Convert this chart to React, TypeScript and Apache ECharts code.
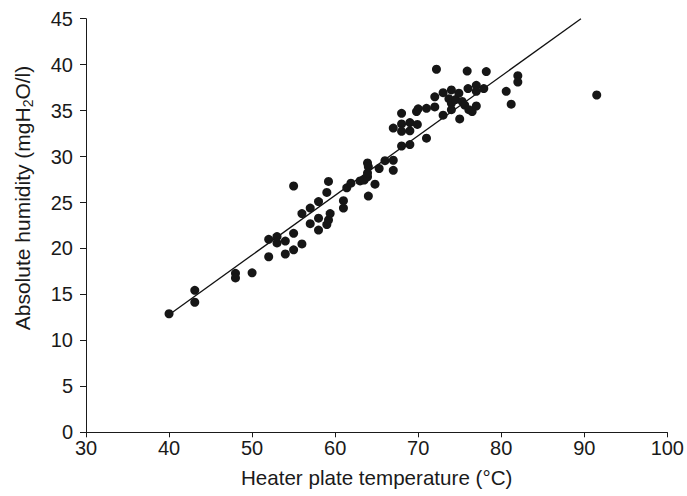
import React, { useEffect, useRef } from "react";
import * as echarts from "echarts";

const temperature = [
  40.0, 43.1, 43.1, 48.0, 48.0, 50.0, 52.0, 52.0, 53.0, 53.0, 54.0, 54.0, 55.0, 55.0, 56.0, 58.0,
  56.0, 57.0, 57.0, 58.0, 58.0, 59.0, 59.2, 59.0, 59.2, 59.4, 61.0, 61.0, 61.4, 61.9, 63.0, 63.5,
  63.9, 63.9, 64.0, 64.0, 64.8, 65.3, 66.0, 67.0, 67.0, 68.0, 69.0, 71.0, 67.0, 68.0, 68.0, 68.0,
  69.0, 69.0, 69.9, 69.8, 70.0, 71.0, 72.0, 72.0, 72.2, 73.0, 73.0, 73.7, 74.0, 74.0, 74.0, 74.5,
  74.9, 75.0, 75.3, 75.6, 75.9, 76.0, 76.1, 76.5, 77.0, 77.0, 77.0, 77.9, 78.2, 80.6, 81.2, 82.0,
  82.0, 91.5, 55.0, 63.9,
];
const humidity = [
  12.9, 15.45, 14.15, 17.3, 16.8, 17.35, 21.0, 19.1, 21.3, 20.6, 20.8, 19.4, 21.65, 19.85, 20.5, 22.0,
  23.8, 24.4, 22.7, 25.1, 23.3, 26.1, 27.3, 22.6, 23.1, 23.8, 25.2, 24.4, 26.6, 27.1, 27.35, 27.45,
  27.8, 29.3, 28.9, 25.7, 27.0, 28.7, 29.55, 29.6, 28.5, 31.15, 31.3, 32.0, 33.1, 33.55, 32.75, 34.7,
  33.7, 32.8, 33.5, 34.9, 35.2, 35.25, 36.5, 35.4, 39.5, 36.95, 34.5, 36.3, 37.25, 35.8, 35.1, 36.2,
  36.9, 34.1, 36.0, 35.6, 39.3, 37.4, 35.1, 34.9, 37.75, 37.1, 35.5, 37.4, 39.25, 37.1, 35.7, 38.8,
  38.1, 36.7, 26.8, 28.2,
];
// regression line end points
const fitTemperature = [40, 89.6];
const fitHumidity = [12.8, 45];

const xTicks = [30, 100, 10];
const yTicks = [0, 45, 5];

const FONT = "'Liberation Sans', Arial, Helvetica, sans-serif";

export default function App() {
  const ref = useRef<HTMLDivElement>(null);
  useEffect(() => {
    if (!ref.current) return;
    const chart = echarts.init(ref.current, undefined, { renderer: "svg" });
    const points = temperature.map((t, i) => [t, humidity[i]]);
    const fit = fitTemperature.map((t, i) => [t, fitHumidity[i]]);
    const axisLine = { show: true, lineStyle: { color: "#1a1a1a", width: 1 } };
    chart.setOption({
      animation: false,
      backgroundColor: "#ffffff",
      grid: { left: 86, right: 18, top: 18.7, bottom: 63.7, containLabel: false },
      xAxis: {
        type: "value",
        min: xTicks[0],
        max: xTicks[1],
        interval: xTicks[2],
        axisLine: { ...axisLine, onZero: false },
        axisTick: { show: true, length: 5, inside: false, lineStyle: { color: "#1a1a1a" } },
        axisLabel: { color: "#1a1a1a", fontSize: 20, fontFamily: FONT, margin: 6 },
        splitLine: { show: false },
        name: "Heater plate temperature (°C)",
        nameLocation: "middle",
        nameGap: 35,
        nameTextStyle: { color: "#1a1a1a", fontSize: 20.6, fontFamily: FONT },
      },
      yAxis: {
        type: "value",
        min: yTicks[0],
        max: yTicks[1],
        interval: yTicks[2],
        axisLine: { ...axisLine, onZero: false },
        axisTick: { show: true, length: 6, inside: false, lineStyle: { color: "#1a1a1a" } },
        axisLabel: { color: "#1a1a1a", fontSize: 20, fontFamily: FONT, margin: 13 },
        splitLine: { show: false },
      },
      graphic: [
        {
          type: "text",
          x: 22,
          y: 198,
          rotation: Math.PI / 2,
          style: {
            text: "Absolute humidity (mgH{sub|2}O/l)",
            fill: "#1a1a1a",
            fontSize: 21,
            fontFamily: FONT,
            align: "center",
            verticalAlign: "middle",
            rich: {
              sub: { fontSize: 14, fontFamily: FONT, fill: "#1a1a1a", padding: [12, 0, 0, 0] },
            },
          },
        },
      ],
      series: [
        {
          type: "line",
          data: fit,
          symbol: "none",
          lineStyle: { color: "#111111", width: 1.3 },
          z: 2,
        },
        {
          type: "scatter",
          data: points,
          symbol: "circle",
          symbolSize: 9,
          itemStyle: { color: "#161616", opacity: 1 },
          z: 3,
        },
      ],
    });
    return () => chart.dispose();
  }, []);
  return <div ref={ref} style={{ width: 687, height: 496, position: "absolute", left: 0, top: 0 }} />;
}
